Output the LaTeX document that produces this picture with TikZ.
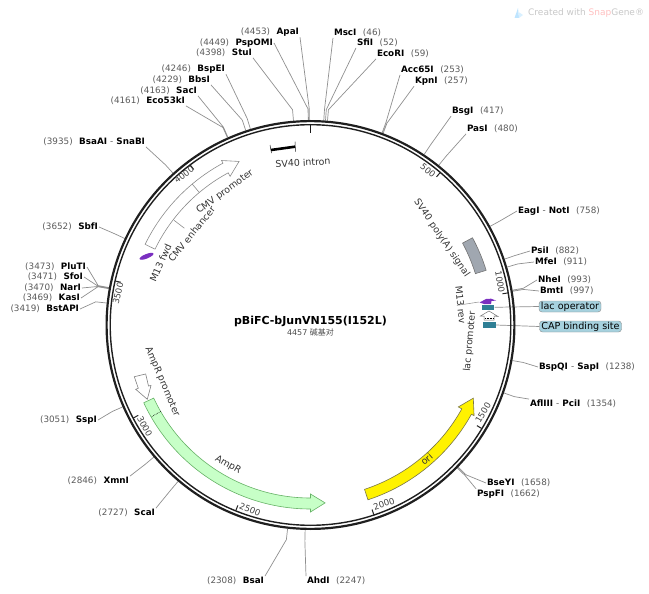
\documentclass[tikz,border=0pt]{standalone}
\usepackage{fontspec}
\usepackage{xcolor}
\usepackage{tikz}
\usetikzlibrary{positioning}
\usetikzlibrary{shapes.geometric}
\setmainfont{DejaVu Sans}
\newfontfamily\cjkfont{Noto Sans CJK SC}
\definecolor{posgray}{HTML}{5A5A5A}
\definecolor{leadgray}{HTML}{8F8F8F}
\definecolor{teal box}{HTML}{2F7F95}
\definecolor{lab box}{HTML}{A6D1DE}
\definecolor{m13 purple}{HTML}{7A2FC0}
\definecolor{polya gray}{HTML}{A0A7B0}
\tikzset{site left/.style={anchor=east,inner sep=0pt,outer sep=1pt,font=\fontsize{8.8}{10}\selectfont},
         site right/.style={anchor=west,inner sep=0pt,outer sep=1pt,font=\fontsize{8.8}{10}\selectfont},
         site line/.style={draw=leadgray,line width=0.7pt},
         tick mark/.style={draw=black!85,line width=1pt},
         tick label/.style={inner sep=0pt,text=black!75,font=\fontsize{8.6}{10}\selectfont},
         feat label/.style={inner sep=0pt,text=black!80,font=\fontsize{9.4}{11}\selectfont},
         lab node/.style={draw=black!45,fill=lab box,rounded corners=3pt,inner sep=0pt,minimum height=11pt,font=\fontsize{9.6}{11}\selectfont},
         band/.style={line width=0.6pt},
            }
\newcommand{\leftsite}[2]{{\color{posgray}(#1)}\hspace{6.5pt}\textbf{#2}}
\newcommand{\rightsite}[2]{\textbf{#1}\hspace{6.5pt}{\color{posgray}(#2)}}
\newcommand{\sitepts}[2]{\coordinate (#1knee) at ({#2/4457*360-90}:216);
        \coordinate (#1ring) at ({#2/4457*360-90}:205);}
\newcommand{\tickat}[1]{({#1/4457*360-90}:200) -- ({#1/4457*360-90}:194.5)}
\newcommand{\bandarrow}[3]{(#1:173) arc[start angle=#1,end angle=#2,radius=173] -- (#2:169) -- (#3:178.5) -- (#2:187) -- (#2:184) arc[start angle=#2,end angle=#1,radius=184] -- cycle}
\begin{document}
\begin{tikzpicture}[x=1pt,y=-1pt]
        \useasboundingbox (0,0) rectangle (649,594);

        % site labels, going round from the top
        \node[site left] (apa) at (300,32) {\leftsite{4453}{ApaI}};
        \node[site left] (pspomi) at (274,43) {\leftsite{4449}{PspOMI}};
        \node[site left] (stu) at (253,53) {\leftsite{4398}{StuI}};
        \node[site left] (bspei) at (226,69) {\leftsite{4246}{BspEI}};
        \node[site left] (bbs) at (211,80) {\leftsite{4229}{BbsI}};
        \node[site left] (sac) at (198,91) {\leftsite{4163}{SacI}};
        \node[site left] (eco53) at (186,101) {\leftsite{4161}{Eco53kI}};
        \node[site left] (bsaai) at (146,142) {\leftsite{3935}{BsaAI {\mdseries\color{posgray}-} SnaBI}};
        \node[site left] (sbf) at (99,227) {\leftsite{3652}{SbfI}};
        \node[site left] (plut) at (87,267) {\leftsite{3473}{PluTI}};
        \node[site left] (sfo) at (84,277) {\leftsite{3471}{SfoI}};
        \node[site left] (nar) at (82,288) {\leftsite{3470}{NarI}};
        \node[site left] (kas) at (81,298) {\leftsite{3469}{KasI}};
        \node[site left] (bstapi) at (80,309) {\leftsite{3419}{BstAPI}};
        \node[site left] (ssp) at (98,420) {\leftsite{3051}{SspI}};
        \node[site left] (xmn) at (130,481) {\leftsite{2846}{XmnI}};
        \node[site left] (sca) at (156,513) {\leftsite{2727}{ScaI}};
        \node[site left] (bsa) at (265,581) {\leftsite{2308}{BsaI}};
        \node[site right] (ahd) at (306,581) {\rightsite{AhdI}{2247}};
        \node[site right] (msc) at (333,33) {\rightsite{MscI}{46}};
        \node[site right] (sfi) at (356,43) {\rightsite{SfiI}{52}};
        \node[site right] (ecori) at (376,54) {\rightsite{EcoRI}{59}};
        \node[site right] (acc65) at (400,70) {\rightsite{Acc65I}{253}};
        \node[site right] (kpn) at (414,81) {\rightsite{KpnI}{257}};
        \node[site right] (bsg) at (451,111) {\rightsite{BsgI}{417}};
        \node[site right] (pas) at (466,129) {\rightsite{PasI}{480}};
        \node[site right] (eag) at (517,211) {\rightsite{EagI {\mdseries\color{posgray}-} NotI}{758}};
        \node[site right] (psi) at (530,251) {\rightsite{PsiI}{882}};
        \node[site right] (mfe) at (534,262) {\rightsite{MfeI}{911}};
        \node[site right] (nhe) at (537,280) {\rightsite{NheI}{993}};
        \node[site right] (bmt) at (539,291) {\rightsite{BmtI}{997}};
        \node[site right] (bspqi) at (538,367) {\rightsite{BspQI {\mdseries\color{posgray}-} SapI}{1238}};
        \node[site right] (afl) at (529,404) {\rightsite{AflIII {\mdseries\color{posgray}-} PciI}{1354}};
        \node[site right] (bseyi) at (486,483) {\rightsite{BseYI}{1658}};
        \node[site right] (pspfi) at (476,494) {\rightsite{PspFI}{1662}};

        \begin{scope}[shift={(310.5,325)}]
        \sitepts{apa}{4453}
        \sitepts{pspomi}{4449}
        \sitepts{stu}{4398}
        \sitepts{bspei}{4246}
        \sitepts{bbs}{4229}
        \sitepts{sac}{4163}
        \sitepts{eco53}{4161}
        \sitepts{bsaai}{3935}
        \sitepts{sbf}{3652}
        \sitepts{plut}{3473}
        \sitepts{sfo}{3471}
        \sitepts{nar}{3470}
        \sitepts{kas}{3469}
        \sitepts{bstapi}{3419}
        \sitepts{ssp}{3051}
        \sitepts{xmn}{2846}
        \sitepts{sca}{2727}
        \sitepts{bsa}{2308}
        \sitepts{ahd}{2247}
        \sitepts{msc}{46}
        \sitepts{sfi}{52}
        \sitepts{ecori}{59}
        \sitepts{acc65}{253}
        \sitepts{kpn}{257}
        \sitepts{bsg}{417}
        \sitepts{pas}{480}
        \sitepts{eag}{758}
        \sitepts{psi}{882}
        \sitepts{mfe}{911}
        \sitepts{nhe}{993}
        \sitepts{bmt}{997}
        \sitepts{bspqi}{1238}
        \sitepts{afl}{1354}
        \sitepts{bseyi}{1658}
        \sitepts{pspfi}{1662}
        \end{scope}

        \path[draw,site line]
        (apa.south east) -- (apaknee) -- (aparing)
        (pspomi.east) -- (pspomiknee) -- (pspomiring)
        (stu.south east) -- (stuknee) -- (sturing)
        (bspei.south east) -- (bspeiknee) -- (bspeiring)
        (bbs.south east) -- (bbsknee) -- (bbsring)
        (sac.south east) -- (sacknee) -- (sacring)
        (eco53.south east) -- (eco53knee) -- (eco53ring)
        (bsaai.south east) -- (bsaaiknee) -- (bsaairing)
        (sbf.east) -- (sbfknee) -- (sbfring)
        (plut.east) -- (plutknee) -- (plutring)
        (sfo.east) -- (sfoknee) -- (sforing)
        (nar.east) -- (narknee) -- (narring)
        (kas.east) -- (kasknee) -- (kasring)
        (bstapi.east) -- (bstapiknee) -- (bstapiring)
        (ssp.east) -- (sspknee) -- (sspring)
        (xmn.north east) -- (xmnknee) -- (xmnring)
        (sca.north east) -- (scaknee) -- (scaring)
        (bsa.north east) -- (bsaknee) -- (bsaring)
        (ahd.north west) -- (ahdknee) -- (ahdring)
        (msc.south west) -- (mscknee) -- (mscring)
        (sfi.south west) -- (sfiknee) -- (sfiring)
        (ecori.south west) -- (ecoriknee) -- (ecoriring)
        (acc65.south west) -- (acc65knee) -- (acc65ring)
        (kpn.south west) -- (kpnknee) -- (kpnring)
        (bsg.south west) -- (bsgknee) -- (bsgring)
        (pas.south west) -- (pasknee) -- (pasring)
        (eag.west) -- (eagknee) -- (eagring)
        (psi.west) -- (psiknee) -- (psiring)
        (mfe.west) -- (mfeknee) -- (mfering)
        (nhe.west) -- (nheknee) -- (nhering)
        (bmt.west) -- (bmtknee) -- (bmtring)
        (bspqi.west) -- (bspqiknee) -- (bspqiring)
        (afl.north west) -- (aflknee) -- (aflring)
        (bseyi.west) -- (bseyiknee) -- (bseyiring)
        (pspfi.north west) -- (pspfiknee) -- (pspfiring);

        % lac region on the right, leaders run under the ring
        \node[lab node,minimum width=62pt] (lacop) at (570,306.5) {lac operator};
        \node[lab node,minimum width=82pt] (capsite) at (580.5,326.5) {CAP binding site};
        \node[fill=teal box,minimum width=12.5pt,minimum height=5.5pt,inner sep=0pt] (lacoprect) at (488.2,307.3) {};
        \node[fill=teal box,minimum width=13pt,minimum height=5.5pt,inner sep=0pt] (caprect) at (489.2,325) {};
        \path[draw,site line]
        (lacop.west) -- (lacoprect.east)
        (capsite.west) -- (caprect.east);

        \begin{scope}[shift={(310.5,325)}]
        % plasmid ring
        \draw[black!88,line width=2.2pt] (0,0) circle[radius=203.9];
        \draw[black!88,line width=1.4pt] (0,0) circle[radius=200.3];

        \draw[black!90,line width=1.6pt] (-90:200) -- (-90:192);
        \path[draw,tick mark]
        \tickat{500} \tickat{1000} \tickat{1500} \tickat{2000}
        \tickat{2500} \tickat{3000} \tickat{3500} \tickat{4000};

        % features
        \draw[band,draw=black!45,fill=white] \bandarrow{206}{241.6}{246.4};
        \draw[band,draw=black!45] (230:173) -- (230:184);
        \draw[band,draw=black!45] (217.5:172) -- (217.5:159);
        \draw[band,draw=black!50!green!60,fill=green!22] \bandarrow{155}{90}{85.3};
        \draw[black,densely dotted,line width=0.6pt] (150:173) -- (150:184);
        \draw[band,draw=black!60!yellow,fill=yellow] \bandarrow{71.8}{29}{24.2};
        \draw[band,draw=black!55,fill=polya gray] (-28.3:172.7) arc[start angle=-28.3,end angle=-17.3,radius=172.7] -- (-17.3:184) arc[start angle=-17.3,end angle=-28.3,radius=184] -- cycle;
        \end{scope}

        % small features drawn from picture coordinates
        \draw[band,draw=black!50,fill=white] (134.3,376.7) -- (145.7,374) -- (148.5,386) -- (151,385.5) -- (147.3,399.3) -- (135.7,389.3) -- (138.3,388.3) -- cycle;
        \draw[black!90,line width=0.5pt] (270,145) -- (271.5,153);
        \draw[black!90,line width=0.5pt] (295,141.7) -- (295.5,151.7);
        \draw[black,line width=2.6pt] (271,150) -- (295,146.7);
        \node[ellipse,fill=m13 purple,rotate=22,minimum width=15pt,minimum height=4.5pt,inner sep=0pt] (m13fwdmark) at (146.5,256.3) {};
        \fill[m13 purple] (479.5,302.5) -- (486,299) -- (491,298.7) -- (496,300.5) -- (491.5,301) -- (491,304) -- (484,304) -- cycle;
        \draw[line width=0.5pt,draw=black!55,fill=white] (480.5,316) -- (489,311) -- (498,316.5) -- (494,316) -- (494,320) -- (484,320) -- (484,316) -- cycle;
        \draw[black,densely dotted,line width=0.5pt] (485,318.6) -- (493.5,318.6);

        \node[feat label,rotate=36] (cmvprolab) at (225,192) {CMV promoter};
        \node[feat label,rotate=51] (cmvenhlab) at (191.7,234) {CMV enhancer};
        \node[feat label,rotate=66] (m13fwdlab) at (160.5,263) {M13 fwd};
        \node[feat label,rotate=3] (intronlab) at (303,162.5) {SV40 intron};
        \node[feat label,rotate=-56] (polyalab) at (441.7,238.3) {SV40 poly(A) signal};
        \node[feat label,rotate=-84] (m13revlab) at (460.7,305) {M13 rev};
        \node[feat label,rotate=85] (lacprolab) at (470,341.7) {lac promoter};
        \node[feat label,rotate=-67] (ampprolab) at (162.3,381.7) {AmpR promoter};
        \node[feat label,rotate=-30] (ampr) at (228,465) {AmpR};
        \node[feat label,rotate=41] (ori) at (426.7,459.3) {ori};
        \draw[site line,line width=0.5pt] (m13revlab.south) -- (479,302);

        \node[tick label,rotate=-40] (t500) at (428,170.5) {500};
        \node[tick label,rotate=-80] (t1000) at (500,282) {1000};
        \node[tick label,rotate=59] (t1500) at (483,413) {1500};
        \node[tick label,rotate=18] (t2000) at (384,504) {2000};
        \node[tick label,rotate=-22] (t2500) at (250,510) {2500};
        \node[tick label,rotate=-62] (t3000) at (144.7,426.5) {3000};
        \node[tick label,rotate=77] (t3500) at (118,293.5) {3500};
        \node[tick label,rotate=37] (t4000) at (184,174.5) {4000};

        % centre text
        \node[inner sep=0pt,font=\bfseries\fontsize{11}{13}\selectfont] (title) at (310.5,321) {pBiFC-bJunVN155(I152L)};
        \node[inner sep=0pt,text=black!70,font=\fontsize{8}{10}\selectfont] (size) at (310.5,332.5) {4457 {\cjkfont 碱基对}};

        % watermark
        \fill[blue!40!cyan!25] (514.5,18) -- (518,8) -- (519,18) -- cycle;
        \fill[blue!40!cyan!15] (519,18) -- (518.5,12) -- (523,15) -- cycle;
        \node[anchor=west,inner sep=0pt,text=black!22,font=\fontsize{9}{11}\selectfont] (mark) at (528,13) {Created with {\color{red!25}Snap}Gene®};
      \end{tikzpicture}
\end{document}
